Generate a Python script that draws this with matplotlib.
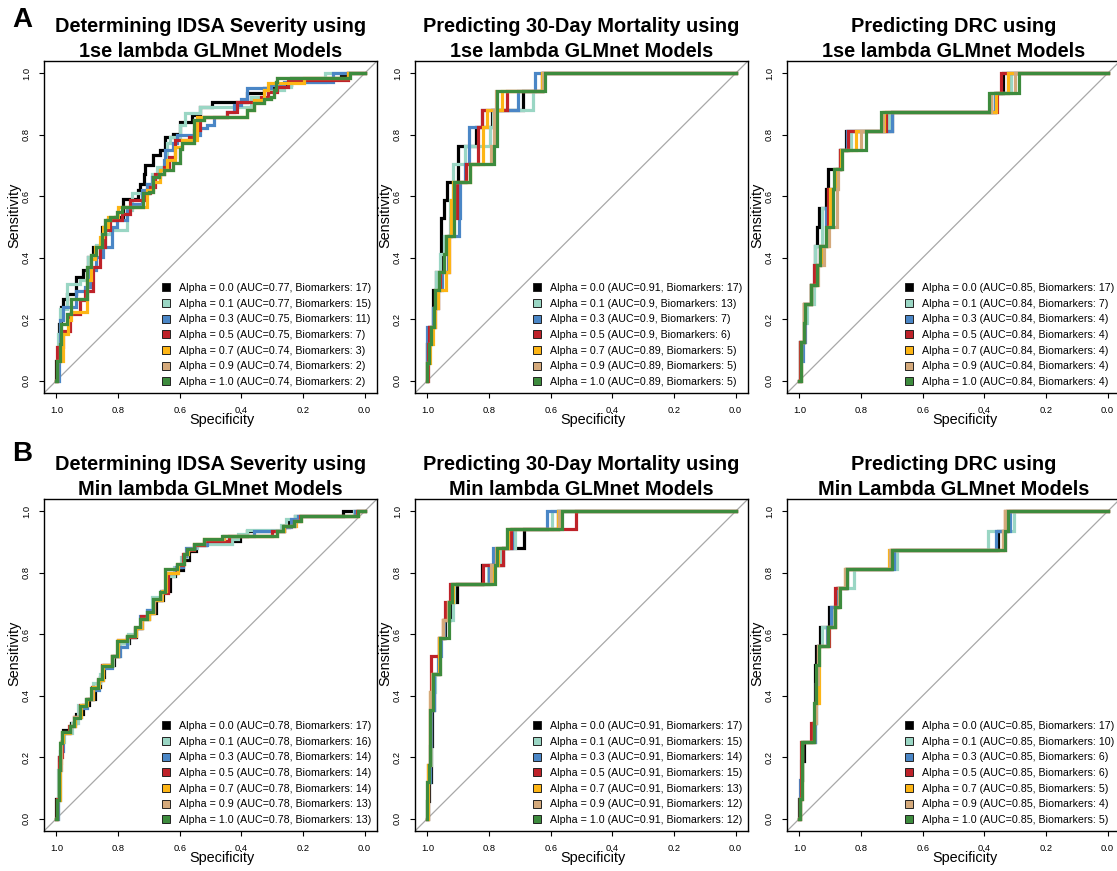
import matplotlib
matplotlib.use("Agg")
import matplotlib.pyplot as plt
from matplotlib.lines import Line2D

plt.rcParams["font.family"] = ["Liberation Sans", "DejaVu Sans"]

# ---------------------------------------------------------------------------
# Model settings and colours (one entry per elastic-net alpha)
# ---------------------------------------------------------------------------
alphas = ["0.0", "0.1", "0.3", "0.5", "0.7", "0.9", "1.0"]
colors = ["#000000", "#9ad6c4", "#4a86c6", "#be2229", "#fdb515", "#d4a97b", "#3d8b3d"]

# ---------------------------------------------------------------------------
# Panel titles
# ---------------------------------------------------------------------------
titles = [
    "Determining IDSA Severity using\n1se lambda GLMnet Models",
    "Predicting 30-Day Mortality using\n1se lambda GLMnet Models",
    "Predicting DRC using\n1se lambda GLMnet Models",
    "Determining IDSA Severity using\nMin lambda GLMnet Models",
    "Predicting 30-Day Mortality using\nMin lambda GLMnet Models",
    "Predicting DRC using\nMin Lambda GLMnet Models",
]

# AUC and number of selected biomarkers per alpha
auc_idsa_1se = [0.77, 0.77, 0.75, 0.75, 0.74, 0.74, 0.74]
bm_idsa_1se = [17, 15, 11, 7, 3, 2, 2]
auc_mort_1se = [0.91, 0.9, 0.9, 0.9, 0.89, 0.89, 0.89]
bm_mort_1se = [17, 13, 7, 6, 5, 5, 5]
auc_drc_1se = [0.85, 0.84, 0.84, 0.84, 0.84, 0.84, 0.84]
bm_drc_1se = [17, 7, 4, 4, 4, 4, 4]
auc_idsa_min = [0.78, 0.78, 0.78, 0.78, 0.78, 0.78, 0.78]
bm_idsa_min = [17, 16, 14, 14, 14, 13, 13]
auc_mort_min = [0.91, 0.91, 0.91, 0.91, 0.91, 0.91, 0.91]
bm_mort_min = [17, 15, 14, 15, 13, 12, 12]
auc_drc_min = [0.85, 0.85, 0.85, 0.85, 0.85, 0.85, 0.85]
bm_drc_min = [17, 10, 6, 6, 5, 4, 5]

# ---------------------------------------------------------------------------
# ROC step vertices: (specificity, sensitivity) where the curve rises
# ---------------------------------------------------------------------------
# IDSA severity, lambda.1se
roc_idsa_1se = [
    [(1.0, 0.0), (1.0, 0.065), (0.991, 0.185), (0.984, 0.239), (0.978, 0.266), (0.967, 0.283),
     (0.935, 0.337), (0.913, 0.359), (0.897, 0.402), (0.880, 0.435), (0.853, 0.5), (0.837, 0.522),
     (0.810, 0.533), (0.783, 0.592), (0.734, 0.620), (0.728, 0.641), (0.717, 0.674), (0.712, 0.701),
     (0.685, 0.734), (0.663, 0.750), (0.647, 0.793), (0.620, 0.804), (0.598, 0.842), (0.560, 0.864),
     (0.533, 0.891), (0.495, 0.908), (0.380, 0.935), (0.326, 0.951), (0.293, 0.962), (0.239, 0.984),
     (0.076, 0.995), (0.054, 1.0), (0.0, 1.0)],
    [(1.0, 0.0), (0.995, 0.152), (0.989, 0.234), (0.967, 0.315), (0.924, 0.326), (0.902, 0.359),
     (0.897, 0.402), (0.870, 0.440), (0.842, 0.478), (0.826, 0.489), (0.772, 0.554), (0.755, 0.609),
     (0.707, 0.641), (0.690, 0.674), (0.674, 0.696), (0.641, 0.772), (0.630, 0.793), (0.598, 0.832),
     (0.582, 0.870), (0.533, 0.891), (0.370, 0.924), (0.315, 0.946), (0.261, 0.957), (0.239, 0.973),
     (0.130, 1.0), (0.0, 1.0)],
    [(1.0, 0.0), (0.991, 0.109), (0.987, 0.196), (0.978, 0.239), (0.935, 0.293), (0.908, 0.304),
     (0.891, 0.359), (0.870, 0.402), (0.848, 0.435), (0.821, 0.5), (0.804, 0.522), (0.772, 0.565),
     (0.750, 0.576), (0.723, 0.620), (0.707, 0.641), (0.690, 0.663), (0.663, 0.685), (0.652, 0.717),
     (0.647, 0.750), (0.620, 0.772), (0.609, 0.799), (0.533, 0.821), (0.511, 0.832), (0.489, 0.859),
     (0.446, 0.875), (0.424, 0.897), (0.402, 0.918), (0.380, 0.951), (0.304, 0.962), (0.261, 0.973),
     (0.103, 1.0), (0.0, 1.0)],
    [(1.0, 0.0), (0.998, 0.109), (0.978, 0.163), (0.957, 0.217), (0.924, 0.261), (0.908, 0.293),
     (0.880, 0.370), (0.859, 0.435), (0.842, 0.489), (0.826, 0.522), (0.788, 0.543), (0.761, 0.587),
     (0.717, 0.609), (0.696, 0.630), (0.679, 0.674), (0.652, 0.696), (0.636, 0.728), (0.614, 0.783),
     (0.571, 0.793), (0.554, 0.815), (0.533, 0.859), (0.446, 0.875), (0.413, 0.908), (0.337, 0.924),
     (0.315, 0.940), (0.283, 0.957), (0.250, 0.978), (0.054, 1.0), (0.0, 1.0)],
    [(1.0, 0.0), (0.998, 0.065), (0.978, 0.152), (0.962, 0.196), (0.951, 0.223), (0.902, 0.326),
     (0.886, 0.397), (0.875, 0.435), (0.859, 0.467), (0.848, 0.5), (0.832, 0.533), (0.799, 0.565),
     (0.707, 0.620), (0.685, 0.647), (0.663, 0.685), (0.641, 0.717), (0.614, 0.761), (0.592, 0.783),
     (0.543, 0.859), (0.380, 0.880), (0.359, 0.913), (0.326, 0.946), (0.315, 0.967), (0.196, 0.984),
     (0.054, 1.0), (0.0, 1.0)],
    [(1.0, 0.0), (0.998, 0.065), (0.989, 0.12), (0.984, 0.185), (0.967, 0.217), (0.951, 0.266),
     (0.902, 0.37), (0.886, 0.408), (0.870, 0.435), (0.853, 0.478), (0.842, 0.522), (0.826, 0.533),
     (0.804, 0.549), (0.788, 0.565), (0.720, 0.609), (0.701, 0.614), (0.685, 0.663), (0.668, 0.674),
     (0.652, 0.685), (0.620, 0.707), (0.598, 0.755), (0.592, 0.772), (0.554, 0.848), (0.522, 0.859),
     (0.380, 0.880), (0.359, 0.902), (0.326, 0.918), (0.304, 0.924), (0.293, 0.946), (0.288, 0.973),
     (0.283, 0.984), (0.049, 1.0), (0.0, 1.0)],
    [(1.0, 0.0), (0.998, 0.065), (0.989, 0.12), (0.984, 0.185), (0.967, 0.217), (0.951, 0.266),
     (0.902, 0.37), (0.886, 0.408), (0.870, 0.435), (0.853, 0.478), (0.842, 0.522), (0.826, 0.533),
     (0.804, 0.549), (0.788, 0.565), (0.720, 0.609), (0.701, 0.614), (0.685, 0.663), (0.668, 0.674),
     (0.652, 0.685), (0.620, 0.707), (0.598, 0.755), (0.592, 0.772), (0.554, 0.848), (0.522, 0.859),
     (0.380, 0.880), (0.359, 0.902), (0.326, 0.918), (0.304, 0.924), (0.293, 0.946), (0.288, 0.973),
     (0.283, 0.984), (0.049, 1.0), (0.0, 1.0)],
]

# 30-day mortality, lambda.1se
roc_mort_1se = [
    [(1.0, 0.0), (1.0, 0.118), (0.995, 0.176), (0.982, 0.294), (0.973, 0.353), (0.957, 0.529),
     (0.947, 0.588), (0.936, 0.647), (0.900, 0.765), (0.843, 0.824), (0.789, 0.882), (0.689, 0.941),
     (0.624, 1.0), (0.0, 1.0)],
    [(1.0, 0.0), (0.998, 0.118), (0.989, 0.176), (0.982, 0.235), (0.971, 0.353), (0.958, 0.412),
     (0.947, 0.471), (0.927, 0.588), (0.916, 0.706), (0.879, 0.765), (0.797, 0.824), (0.786, 0.882),
     (0.658, 0.941), (0.629, 1.0), (0.0, 1.0)],
    [(1.0, 0.0), (1.0, 0.176), (0.982, 0.235), (0.965, 0.294), (0.954, 0.353), (0.933, 0.471),
     (0.897, 0.529), (0.895, 0.647), (0.879, 0.706), (0.864, 0.824), (0.824, 0.882), (0.705, 0.941),
     (0.651, 1.0), (0.0, 1.0)],
    [(1.0, 0.0), (0.998, 0.118), (0.995, 0.176), (0.976, 0.235), (0.965, 0.294), (0.958, 0.353),
     (0.929, 0.471), (0.922, 0.529), (0.903, 0.647), (0.873, 0.706), (0.835, 0.824), (0.824, 0.882),
     (0.743, 0.941), (0.629, 1.0), (0.0, 1.0)],
    [(1.0, 0.0), (1.0, 0.059), (0.992, 0.118), (0.982, 0.176), (0.974, 0.235), (0.965, 0.294),
     (0.938, 0.353), (0.929, 0.471), (0.922, 0.588), (0.916, 0.647), (0.862, 0.706), (0.819, 0.824),
     (0.808, 0.882), (0.759, 0.941), (0.627, 1.0), (0.0, 1.0)],
    [(1.0, 0.0), (1.0, 0.059), (0.995, 0.118), (0.987, 0.176), (0.979, 0.235), (0.974, 0.294),
     (0.962, 0.353), (0.947, 0.412), (0.938, 0.471), (0.913, 0.647), (0.862, 0.706), (0.792, 0.765),
     (0.784, 0.882), (0.778, 0.941), (0.624, 1.0), (0.0, 1.0)],
    [(1.0, 0.0), (1.0, 0.059), (0.995, 0.118), (0.987, 0.176), (0.979, 0.235), (0.974, 0.294),
     (0.962, 0.353), (0.947, 0.412), (0.938, 0.471), (0.913, 0.647), (0.862, 0.706), (0.784, 0.765),
     (0.775, 0.941), (0.618, 1.0), (0.0, 1.0)],
]

# DRC, lambda.1se
roc_drc_1se = [
    [(1.0, 0.0), (0.997, 0.125), (0.986, 0.25), (0.962, 0.3125), (0.948, 0.4375), (0.942, 0.5),
     (0.937, 0.5625), (0.912, 0.625), (0.908, 0.6875), (0.868, 0.75), (0.850, 0.8125), (0.698, 0.875),
     (0.366, 0.9375), (0.339, 1.0), (0.0, 1.0)],
    [(1.0, 0.0), (0.997, 0.125), (0.986, 0.1875), (0.975, 0.25), (0.951, 0.375), (0.948, 0.4375),
     (0.926, 0.5625), (0.904, 0.625), (0.883, 0.6875), (0.866, 0.75), (0.834, 0.8125), (0.709, 0.875),
     (0.377, 0.9375), (0.312, 1.0), (0.0, 1.0)],
    [(1.0, 0.0), (0.993, 0.0625), (0.989, 0.125), (0.983, 0.25), (0.962, 0.3125), (0.945, 0.375),
     (0.934, 0.4375), (0.915, 0.5625), (0.904, 0.625), (0.877, 0.6875), (0.866, 0.75), (0.845, 0.8125),
     (0.698, 0.875), (0.366, 0.9375), (0.323, 1.0), (0.0, 1.0)],
    [(1.0, 0.0), (0.997, 0.125), (0.986, 0.25), (0.962, 0.3125), (0.953, 0.375), (0.932, 0.4375),
     (0.910, 0.5), (0.908, 0.625), (0.877, 0.6875), (0.868, 0.75), (0.842, 0.8125), (0.720, 0.875),
     (0.358, 0.9375), (0.345, 1.0), (0.0, 1.0)],
    [(1.0, 0.0), (0.995, 0.125), (0.986, 0.25), (0.962, 0.3125), (0.942, 0.375), (0.929, 0.4375),
     (0.908, 0.5), (0.899, 0.625), (0.883, 0.6875), (0.866, 0.75), (0.817, 0.8125), (0.727, 0.875),
     (0.361, 0.9375), (0.323, 1.0), (0.0, 1.0)],
    [(1.0, 0.0), (0.995, 0.125), (0.986, 0.25), (0.962, 0.3125), (0.940, 0.375), (0.921, 0.4375),
     (0.904, 0.5), (0.877, 0.625), (0.875, 0.6875), (0.863, 0.75), (0.801, 0.8125), (0.730, 0.875),
     (0.377, 0.9375), (0.301, 1.0), (0.0, 1.0)],
    [(1.0, 0.0), (0.993, 0.125), (0.986, 0.1875), (0.980, 0.25), (0.962, 0.3125), (0.942, 0.375),
     (0.932, 0.4375), (0.912, 0.5), (0.890, 0.625), (0.888, 0.6875), (0.863, 0.75), (0.785, 0.8125),
     (0.736, 0.875), (0.386, 0.9375), (0.288, 1.0), (0.0, 1.0)],
]

# IDSA severity, lambda.min
roc_idsa_min = [
    [(1.0, 0.0), (1.0, 0.065), (0.992, 0.20), (0.985, 0.25), (0.978, 0.29), (0.952, 0.31),
     (0.935, 0.34), (0.915, 0.37), (0.895, 0.39), (0.875, 0.43), (0.858, 0.46), (0.845, 0.50),
     (0.812, 0.53), (0.796, 0.57), (0.765, 0.59), (0.740, 0.62), (0.722, 0.65), (0.700, 0.67),
     (0.678, 0.71), (0.655, 0.74), (0.632, 0.79), (0.615, 0.81), (0.590, 0.84), (0.570, 0.87),
     (0.548, 0.89), (0.515, 0.905), (0.405, 0.92), (0.380, 0.935), (0.262, 0.95), (0.245, 0.965),
     (0.225, 0.985), (0.071, 1.0), (0.0, 1.0)],
    [(1.0, 0.0), (0.995, 0.16), (0.985, 0.25), (0.975, 0.28), (0.950, 0.31), (0.930, 0.37),
     (0.905, 0.39), (0.882, 0.44), (0.860, 0.47), (0.850, 0.50), (0.815, 0.53), (0.795, 0.57),
     (0.768, 0.60), (0.742, 0.62), (0.725, 0.65), (0.705, 0.68), (0.690, 0.72), (0.662, 0.74),
     (0.640, 0.79), (0.618, 0.82), (0.595, 0.85), (0.575, 0.88), (0.545, 0.895), (0.430, 0.91),
     (0.410, 0.925), (0.380, 0.94), (0.270, 0.955), (0.255, 0.975), (0.225, 0.985), (0.035, 1.0),
     (0.0, 1.0)],
    [(1.0, 0.0), (0.996, 0.06), (0.988, 0.22), (0.980, 0.28), (0.955, 0.30), (0.940, 0.33),
     (0.920, 0.36), (0.900, 0.39), (0.882, 0.42), (0.862, 0.45), (0.850, 0.49), (0.818, 0.53),
     (0.792, 0.56), (0.770, 0.59), (0.745, 0.62), (0.730, 0.66), (0.705, 0.68), (0.688, 0.71),
     (0.660, 0.74), (0.642, 0.80), (0.612, 0.82), (0.590, 0.855), (0.578, 0.88), (0.550, 0.89),
     (0.512, 0.905), (0.460, 0.92), (0.360, 0.935), (0.265, 0.95), (0.240, 0.975), (0.215, 0.985),
     (0.030, 1.0), (0.0, 1.0)],
    [(1.0, 0.0), (0.998, 0.065), (0.990, 0.20), (0.983, 0.28), (0.960, 0.30), (0.942, 0.33),
     (0.922, 0.37), (0.902, 0.39), (0.884, 0.43), (0.866, 0.45), (0.851, 0.50), (0.820, 0.53),
     (0.800, 0.58), (0.772, 0.59), (0.745, 0.62), (0.726, 0.66), (0.702, 0.67), (0.682, 0.71),
     (0.660, 0.735), (0.638, 0.80), (0.608, 0.825), (0.588, 0.86), (0.575, 0.875), (0.552, 0.89),
     (0.520, 0.905), (0.440, 0.92), (0.300, 0.937), (0.262, 0.953), (0.230, 0.970), (0.210, 0.986),
     (0.025, 1.0), (0.0, 1.0)],
    [(1.0, 0.0), (0.998, 0.06), (0.989, 0.18), (0.985, 0.25), (0.978, 0.28), (0.955, 0.30),
     (0.940, 0.33), (0.920, 0.37), (0.900, 0.39), (0.880, 0.43), (0.862, 0.45), (0.848, 0.50),
     (0.818, 0.53), (0.800, 0.58), (0.770, 0.595), (0.742, 0.62), (0.722, 0.65), (0.700, 0.67),
     (0.682, 0.71), (0.658, 0.74), (0.645, 0.80), (0.606, 0.83), (0.586, 0.86), (0.574, 0.877),
     (0.552, 0.893), (0.520, 0.91), (0.455, 0.921), (0.285, 0.937), (0.262, 0.953), (0.222, 0.970),
     (0.205, 0.986), (0.020, 1.0), (0.0, 1.0)],
    [(1.0, 0.0), (0.998, 0.062), (0.991, 0.16), (0.986, 0.25), (0.981, 0.282), (0.956, 0.30),
     (0.942, 0.33), (0.922, 0.366), (0.903, 0.39), (0.884, 0.426), (0.865, 0.453), (0.852, 0.497),
     (0.820, 0.529), (0.802, 0.578), (0.771, 0.595), (0.744, 0.622), (0.726, 0.649), (0.705, 0.671),
     (0.684, 0.714), (0.661, 0.736), (0.646, 0.812), (0.608, 0.828), (0.586, 0.861), (0.575, 0.877),
     (0.553, 0.893), (0.521, 0.910), (0.460, 0.921), (0.283, 0.937), (0.265, 0.953), (0.227, 0.970),
     (0.206, 0.986), (0.022, 1.0), (0.0, 1.0)],
    [(1.0, 0.0), (0.998, 0.062), (0.991, 0.160), (0.987, 0.247), (0.982, 0.282), (0.957, 0.301),
     (0.943, 0.328), (0.924, 0.366), (0.904, 0.390), (0.886, 0.426), (0.866, 0.453), (0.853, 0.497),
     (0.821, 0.529), (0.804, 0.578), (0.772, 0.595), (0.745, 0.622), (0.728, 0.649), (0.707, 0.671),
     (0.685, 0.714), (0.663, 0.736), (0.647, 0.812), (0.609, 0.828), (0.587, 0.861), (0.576, 0.877),
     (0.554, 0.893), (0.522, 0.910), (0.462, 0.921), (0.283, 0.937), (0.266, 0.953), (0.228, 0.970),
     (0.207, 0.986), (0.022, 1.0), (0.0, 1.0)],
]

# 30-day mortality, lambda.min
roc_mort_min = [
    [(1.0, 0.0), (1.0, 0.059), (0.995, 0.118), (0.987, 0.235), (0.984, 0.353), (0.979, 0.471),
     (0.962, 0.588), (0.944, 0.647), (0.927, 0.706), (0.903, 0.765), (0.824, 0.824), (0.754, 0.882),
     (0.687, 0.941), (0.575, 1.0), (0.0, 1.0)],
    [(1.0, 0.0), (0.998, 0.118), (0.992, 0.176), (0.987, 0.353), (0.982, 0.412), (0.976, 0.471),
     (0.960, 0.588), (0.947, 0.647), (0.916, 0.706), (0.914, 0.765), (0.803, 0.824), (0.762, 0.882),
     (0.716, 0.941), (0.597, 1.0), (0.0, 1.0)],
    [(1.0, 0.0), (0.998, 0.118), (0.992, 0.235), (0.987, 0.353), (0.980, 0.471), (0.965, 0.529),
     (0.955, 0.588), (0.945, 0.647), (0.930, 0.706), (0.922, 0.765), (0.800, 0.824), (0.786, 0.882),
     (0.727, 0.941), (0.613, 1.0), (0.0, 1.0)],
    [(1.0, 0.0), (0.999, 0.176), (0.992, 0.353), (0.989, 0.471), (0.987, 0.529), (0.962, 0.588),
     (0.948, 0.647), (0.944, 0.706), (0.925, 0.765), (0.819, 0.824), (0.754, 0.882), (0.730, 0.941),
     (0.517, 1.0), (0.0, 1.0)],
    [(1.0, 0.0), (0.999, 0.176), (0.992, 0.412), (0.985, 0.471), (0.962, 0.588), (0.950, 0.647),
     (0.934, 0.706), (0.918, 0.765), (0.790, 0.824), (0.772, 0.882), (0.738, 0.941), (0.575, 1.0),
     (0.0, 1.0)],
    [(1.0, 0.0), (1.0, 0.118), (0.994, 0.176), (0.992, 0.412), (0.984, 0.471), (0.960, 0.588),
     (0.950, 0.647), (0.932, 0.706), (0.920, 0.765), (0.792, 0.824), (0.776, 0.882), (0.741, 0.941),
     (0.572, 1.0), (0.0, 1.0)],
    [(1.0, 0.0), (1.0, 0.118), (0.995, 0.176), (0.990, 0.353), (0.982, 0.471), (0.958, 0.588),
     (0.930, 0.706), (0.919, 0.765), (0.781, 0.824), (0.775, 0.882), (0.741, 0.941), (0.564, 1.0),
     (0.0, 1.0)],
]

# DRC, lambda.min
roc_drc_min = [
    [(1.0, 0.0), (1.0, 0.0625), (0.994, 0.125), (0.990, 0.1875), (0.986, 0.25), (0.955, 0.3125),
     (0.950, 0.4375), (0.948, 0.5), (0.945, 0.5625), (0.932, 0.625), (0.904, 0.6875), (0.879, 0.75),
     (0.847, 0.8125), (0.698, 0.875), (0.355, 0.9375), (0.328, 1.0), (0.0, 1.0)],
    [(1.0, 0.0), (0.997, 0.0625), (0.993, 0.1875), (0.990, 0.25), (0.948, 0.3125), (0.945, 0.4375),
     (0.940, 0.5), (0.935, 0.5625), (0.926, 0.625), (0.895, 0.6875), (0.875, 0.75), (0.823, 0.8125),
     (0.682, 0.875), (0.388, 0.9375), (0.303, 1.0), (0.0, 1.0)],
    [(1.0, 0.0), (0.997, 0.125), (0.992, 0.25), (0.950, 0.3125), (0.945, 0.4375), (0.938, 0.5625),
     (0.910, 0.625), (0.897, 0.6875), (0.875, 0.75), (0.850, 0.8125), (0.692, 0.875), (0.361, 0.9375),
     (0.317, 1.0), (0.0, 1.0)],
    [(1.0, 0.0), (0.997, 0.0625), (0.993, 0.25), (0.962, 0.3125), (0.950, 0.375), (0.942, 0.4375),
     (0.940, 0.5625), (0.904, 0.625), (0.885, 0.6875), (0.883, 0.75), (0.850, 0.8125), (0.704, 0.875),
     (0.332, 1.0), (0.0, 1.0)],
    [(1.0, 0.0), (0.997, 0.0625), (0.991, 0.25), (0.952, 0.3125), (0.948, 0.375), (0.937, 0.4375),
     (0.935, 0.5625), (0.906, 0.625), (0.885, 0.6875), (0.870, 0.75), (0.852, 0.8125), (0.709, 0.875),
     (0.340, 0.9375), (0.334, 1.0), (0.0, 1.0)],
    [(1.0, 0.0), (0.997, 0.0625), (0.991, 0.25), (0.952, 0.3125), (0.947, 0.4375), (0.940, 0.5625),
     (0.908, 0.625), (0.885, 0.6875), (0.870, 0.75), (0.853, 0.8125), (0.705, 0.875), (0.340, 0.9375),
     (0.334, 1.0), (0.0, 1.0)],
    [(1.0, 0.0), (0.997, 0.0625), (0.991, 0.25), (0.953, 0.375), (0.945, 0.5), (0.937, 0.5625),
     (0.908, 0.625), (0.883, 0.6875), (0.868, 0.75), (0.847, 0.8125), (0.701, 0.875), (0.334, 0.9375),
     (0.323, 1.0), (0.0, 1.0)],
]

panels = [
    (roc_idsa_1se, auc_idsa_1se, bm_idsa_1se),
    (roc_mort_1se, auc_mort_1se, bm_mort_1se),
    (roc_drc_1se, auc_drc_1se, bm_drc_1se),
    (roc_idsa_min, auc_idsa_min, bm_idsa_min),
    (roc_mort_min, auc_mort_min, bm_mort_min),
    (roc_drc_min, auc_drc_min, bm_drc_min),
]

tick_vals = [0.0, 0.2, 0.4, 0.6, 0.8, 1.0]
tick_text = ["0.0", "0.2", "0.4", "0.6", "0.8", "1.0"]

# ---------------------------------------------------------------------------
# Figure layout (pixel boxes converted to figure fractions)
# ---------------------------------------------------------------------------
W, H = 1117, 871
fig = plt.figure(figsize=(W / 100, H / 100), dpi=100)

col_left = [44, 415, 787]
row_top = [61, 499]
box_w, box_h = 333, 332

for idx, (curves, aucs, bms) in enumerate(panels):
    r, c = divmod(idx, 3)
    left = col_left[c] / W
    bottom = (H - row_top[r] - box_h) / H
    ax = fig.add_axes([left, bottom, box_w / W, box_h / H])

    ax.set_xlim(1.04, -0.04)
    ax.set_ylim(-0.04, 1.04)

    # chance line
    ax.axline((1.0, 0.0), (0.0, 1.0), color="#a8a8a8", lw=0.9, zorder=1)

    handles = []
    labels = []
    for k, pts in enumerate(curves):
        spec = [p[0] for p in pts]
        sens = [p[1] for p in pts]
        ax.plot(spec, sens, drawstyle="steps-post", color=colors[k], lw=2.3,
                solid_joinstyle="miter", zorder=2 + k)
        handles.append(Line2D([], [], linestyle="None", marker="s", markersize=6.2,
                              markerfacecolor=colors[k], markeredgecolor="#222222",
                              markeredgewidth=0.7))
        labels.append(f"Alpha = {alphas[k]} (AUC={aucs[k]:g}, Biomarkers: {bms[k]})")

    ax.legend(handles, labels, loc="lower right", bbox_to_anchor=(1.0, 0.0),
              frameon=False, fontsize=7.7, handlelength=0.9, handletextpad=0.75,
              labelspacing=0.53, borderaxespad=0.25, borderpad=0.3)

    ax.set_xticks(tick_vals)
    ax.set_xticklabels(tick_text)
    ax.set_yticks(tick_vals)
    ax.set_yticklabels(tick_text, rotation=90, va="center")
    ax.tick_params(direction="out", length=3.8, width=0.8, labelsize=6.7, pad=5.5)
    for s in ax.spines.values():
        s.set_linewidth(1.0)

    ax.text(0.535, -0.082, "Specificity", transform=ax.transAxes, ha="center",
            va="center", fontsize=10.4)
    ax.text(-0.09, 0.536, "Sensitivity", transform=ax.transAxes, ha="center",
            va="center", rotation=90, fontsize=10.4)

    ax.set_title(titles[idx], fontsize=14.4, fontweight="bold", pad=2.5, linespacing=1.38)

fig.text(22 / W, 1 - 20 / H, "A", fontsize=20, fontweight="bold", ha="center", va="center")
fig.text(22 / W, 1 - 454 / H, "B", fontsize=20, fontweight="bold", ha="center", va="center")

fig.savefig("out.png", dpi=100)
